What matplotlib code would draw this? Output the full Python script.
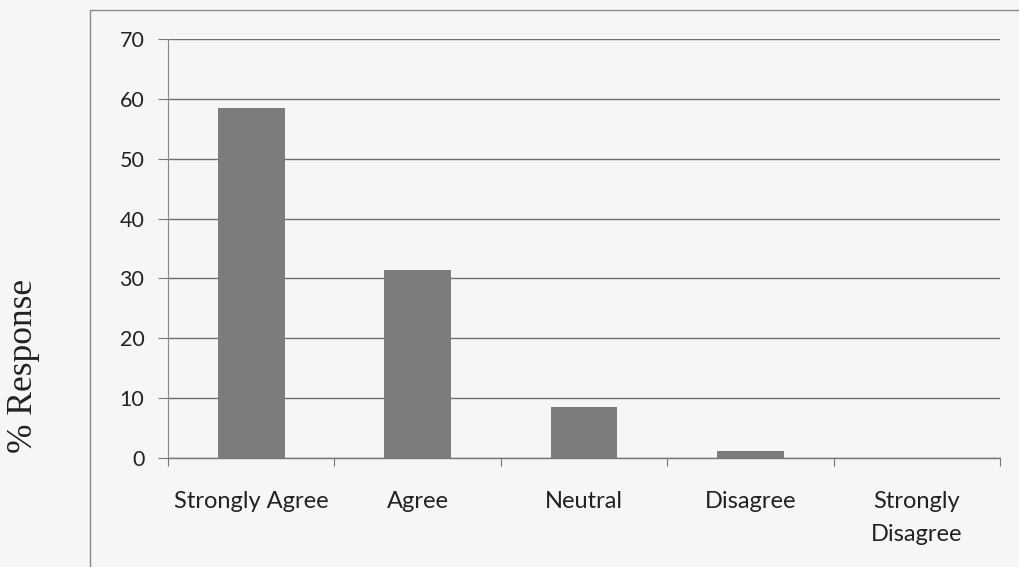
import matplotlib
matplotlib.use('Agg')
import matplotlib.pyplot as plt
import numpy as np
from matplotlib.patches import Rectangle

# data
categories = ['Strongly Agree', 'Agree', 'Neutral', 'Disagree', 'Strongly\nDisagree']
response = [58.5, 31.4, 8.5, 1.2, 0.0]
yticks = [0, 10, 20, 30, 40, 50, 60, 70]

paper = '#f6f6f4'

fig = plt.figure(figsize=(10.19, 5.67), dpi=100, facecolor=paper)
ax = fig.add_axes([0.1649, 0.1922, 0.8164, 0.7390])
ax.set_facecolor(paper)

x = np.arange(len(categories))
ax.bar(x, response, width=0.4, color='#7c7c7c', zorder=3)

ax.set_xlim(-0.5, len(categories) - 0.5)
ax.set_ylim(0, 70)
ax.set_yticks(yticks)
ax.set_yticklabels([str(t) for t in yticks], fontsize=15.5, family='Lato', color='#222222')

# category labels between the boundary ticks
ax.set_xticks(np.arange(-0.5, len(categories), 1.0))
ax.set_xticklabels([])
ax.tick_params(axis='x', direction='out', length=6, color='#777777', width=0.8)
ax.tick_params(axis='y', direction='out', length=7, color='#777777', width=0.8, pad=10)
for i, lab in enumerate(categories):
    ax.text(i, -5.5, lab, ha='center', va='top', fontsize=17, family='Lato',
            color='#222222', linespacing=1.7)

ax.grid(axis='y', color='#6e6e6e', linewidth=1.0, zorder=0)
for s in ['top', 'right']:
    ax.spines[s].set_visible(False)
ax.spines['left'].set_color('#888888')
ax.spines['bottom'].set_color('#777777')
ax.spines['left'].set_linewidth(0.8)
ax.spines['bottom'].set_linewidth(1.0)

# outer chart-area border
fig.patches.append(Rectangle((90 / 1019, -0.1), 1.0, 1 - 10 / 567 + 0.1,
                             transform=fig.transFigure, fill=False,
                             edgecolor='#8a8a8a', linewidth=1.0))

fig.text(24 / 1019, 1 - 366 / 567, '% Response', rotation=90, ha='center', va='center',
         fontsize=25.5, family='Liberation Serif', color='#222222')

fig.savefig('out.png', dpi=100, facecolor=paper)
